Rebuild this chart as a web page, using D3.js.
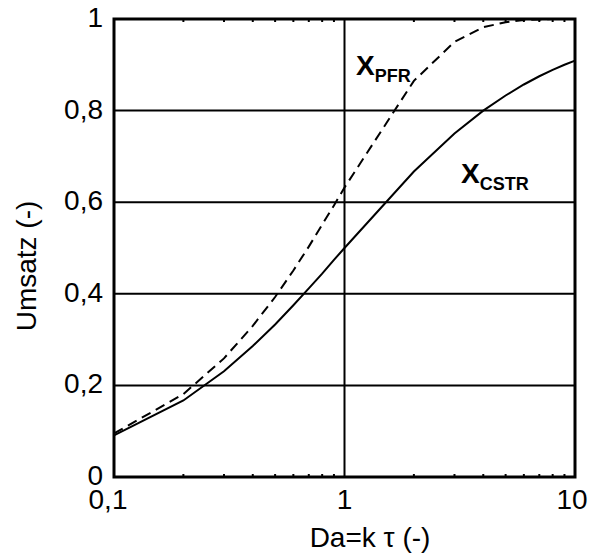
<!DOCTYPE html>
<head>
  <title>Umsatz PFR / CSTR</title>
  <style>
    body { margin: 0; background: #fff; }
    text { font-family: "Liberation Sans", Arial, sans-serif; fill: #000; }
  </style>
</head>
<body>
  <script src="https://cdn.jsdelivr.net/npm/d3@7"></script>
  <script>
    // Damkoehler numbers (x) and read-off conversions
    var da = [0.1, 0.2, 0.3, 0.4, 0.5, 0.6, 0.7, 0.8, 0.9, 1, 2, 3, 4, 5, 6, 7, 8, 9, 10];
    var xCstr = [0.091, 0.167, 0.231, 0.286, 0.333, 0.375, 0.412, 0.444, 0.474, 0.5,
                 0.667, 0.75, 0.8, 0.833, 0.857, 0.875, 0.889, 0.9, 0.909];
    var xPfr = [0.095, 0.181, 0.259, 0.33, 0.393, 0.451, 0.503, 0.551, 0.593, 0.632,
                0.865, 0.95, 0.982, 0.993, 0.998, 0.999, 1.0, 1.0, 1.0];
    var xTicks = [0.1, 1, 10];
    var yTicks = [0, 0.2, 0.4, 0.6, 0.8, 1];
    var minorTicks = [0.2, 0.3, 0.4, 0.5, 0.6, 0.7, 0.8, 0.9, 2, 3, 4, 5, 6, 7, 8, 9];

    var w = 590, h = 554;
    // plot box (note: "top" is reserved on window, so use pad* names)
    var padL = 114, padR = 575, padT = 19, padB = 477;

    var svg = d3.select("body").append("svg")
      .attr("width", w)
      .attr("height", h);

    var x = d3.scaleLog().domain([0.1, 10]).range([padL, padR]);
    var y = d3.scaleLinear().domain([0, 1]).range([padB, padT]);

    var fmt = function(d) { return String(d).replace(".", ","); };

    // gridlines
    svg.selectAll("line.hgrid")
      .data(yTicks.filter(function(d) { return d > 0 && d < 1; }))
      .enter().append("line")
      .attr("x1", padL).attr("x2", padR)
      .attr("y1", function(d) { return y(d); })
      .attr("y2", function(d) { return y(d); })
      .attr("stroke", "#000").attr("stroke-width", 2);

    svg.append("line")
      .attr("x1", x(1)).attr("x2", x(1))
      .attr("y1", padT).attr("y2", padB)
      .attr("stroke", "#000").attr("stroke-width", 2);

    // small minor ticks on top and bottom
    svg.selectAll("line.mt")
      .data(minorTicks)
      .enter().append("line")
      .attr("x1", function(d) { return x(d); })
      .attr("x2", function(d) { return x(d); })
      .attr("y1", padT).attr("y2", padT + 3)
      .attr("stroke", "#000").attr("stroke-width", 2);
    svg.selectAll("line.mb")
      .data(minorTicks)
      .enter().append("line")
      .attr("x1", function(d) { return x(d); })
      .attr("x2", function(d) { return x(d); })
      .attr("y1", padB).attr("y2", padB - 3)
      .attr("stroke", "#000").attr("stroke-width", 2);

    // curves
    var line = d3.line()
      .x(function(d) { return x(d[0]); })
      .y(function(d) { return y(d[1]); });

    svg.append("path")
      .datum(d3.zip(da, xCstr))
      .attr("d", line)
      .attr("fill", "none")
      .attr("stroke", "#000")
      .attr("stroke-width", 2);

    svg.append("path")
      .datum(d3.zip(da, xPfr))
      .attr("d", line)
      .attr("fill", "none")
      .attr("stroke", "#000")
      .attr("stroke-width", 2)
      .attr("stroke-dasharray", "10,6");

    // frame
    svg.append("rect")
      .attr("x", padL).attr("y", padT)
      .attr("width", padR - padL).attr("height", padB - padT)
      .attr("fill", "none")
      .attr("stroke", "#000")
      .attr("stroke-width", 3);

    // tick labels
    svg.selectAll("text.xt")
      .data(xTicks)
      .enter().append("text")
      .attr("x", function(d, i) { return x(d) + (i == 0 ? -6 : (i == 2 ? -3 : 0)); })
      .attr("y", padB + 32)
      .attr("text-anchor", "middle")
      .style("font-size", "28px")
      .text(fmt);

    svg.selectAll("text.yt")
      .data(yTicks)
      .enter().append("text")
      .attr("x", padL - 11)
      .attr("y", function(d) { return y(d) + 8; })
      .attr("text-anchor", "end")
      .style("font-size", "28px")
      .text(fmt);

    // axis titles
    svg.append("text")
      .attr("x", 370)
      .attr("y", 547)
      .attr("text-anchor", "middle")
      .style("font-size", "28px")
      .text("Da=k \u03c4 (-)");

    svg.append("text")
      .attr("transform", "translate(36,266) rotate(-90)")
      .attr("text-anchor", "middle")
      .style("font-size", "28px")
      .text("Umsatz (-)");

    // curve labels
    var lab1 = svg.append("text")
      .attr("x", 356).attr("y", 75)
      .style("font-size", "28px").style("font-weight", "bold");
    lab1.append("tspan").text("X");
    lab1.append("tspan").attr("dy", 7).style("font-size", "18px").text("PFR");

    var lab2 = svg.append("text")
      .attr("x", 461).attr("y", 183)
      .style("font-size", "28px").style("font-weight", "bold");
    lab2.append("tspan").text("X");
    lab2.append("tspan").attr("dy", 7).style("font-size", "18px").text("CSTR");
  </script>
</body>
